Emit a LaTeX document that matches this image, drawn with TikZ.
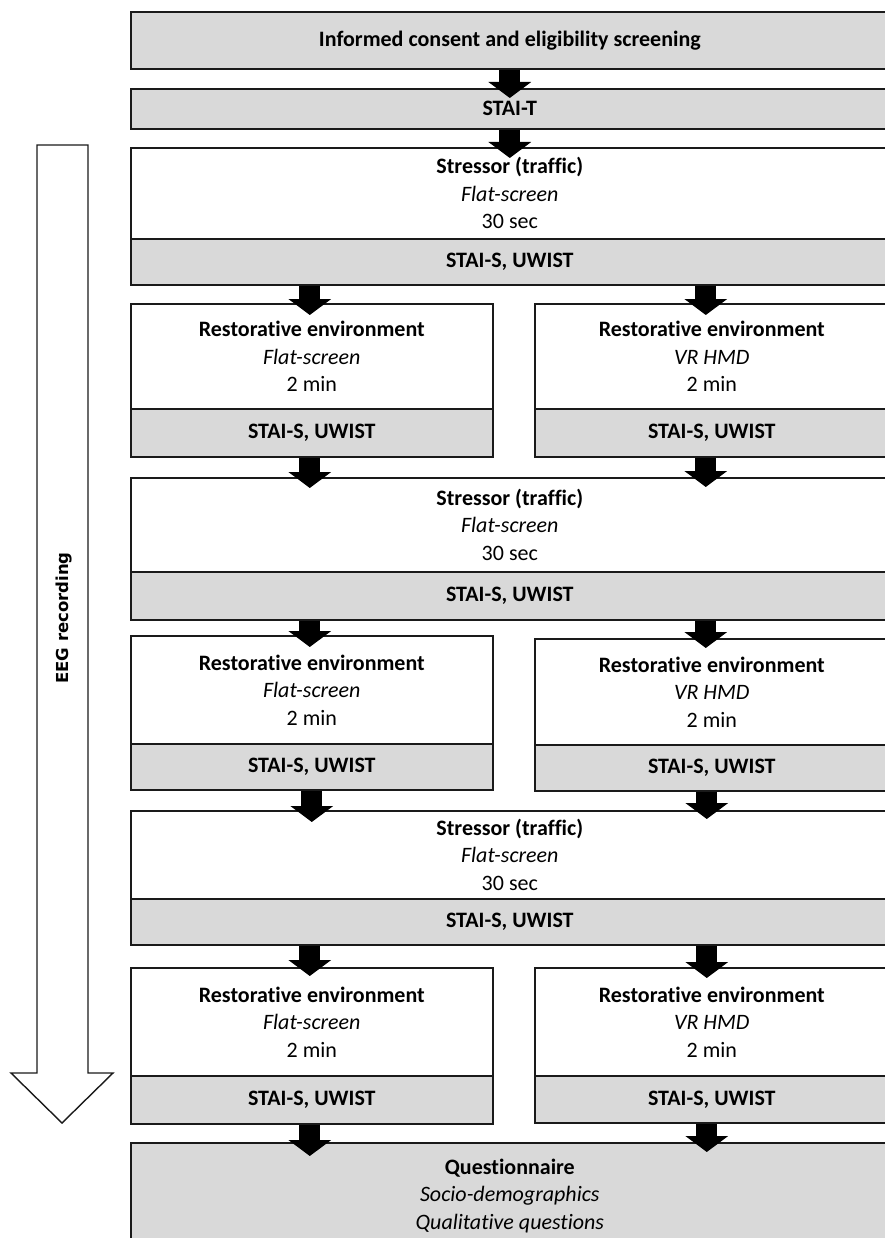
\documentclass[tikz,border=0pt]{standalone}
\usepackage{fontspec}
\setmainfont{Carlito}[Ligatures=NoCommon]
\newfontfamily\eegfont{DejaVu Sans}
\usetikzlibrary{arrows.meta,calc}
\definecolor{boxgray}{HTML}{D9D9D9}
\definecolor{edge}{HTML}{1A1A1A}
\tikzset{
  part/.style={draw=edge, line width=1.6pt, inner sep=0pt, anchor=north west, align=center},
  whitepart/.style={part, fill=white, font=\fontsize{22}{27.5}\selectfont},
  graypart/.style={part, fill=boxgray, font=\fontsize{22}{27.5}\selectfont\bfseries},
  full/.style={minimum width=758pt},
  lbox/.style={minimum width=362pt},
  rbox/.style={minimum width=354pt},
  flow/.style={line width=21pt, black, -{Triangle[width=42pt,length=16pt]}},
  eegarrow/.style={draw=edge, line width=1.4pt, fill=white, line join=miter},
}
\newcommand{\stressortext}{\textbf{Stressor (traffic)}\\\textit{Flat-screen}\\30 sec}
\newcommand{\restflat}{\textbf{Restorative environment}\\\textit{Flat-screen}\\2 min}
\newcommand{\restvr}{\textbf{Restorative environment}\\\textit{VR HMD}\\2 min}
\begin{document}
\begin{tikzpicture}[x=1pt,y=-1pt]
\useasboundingbox (0,0) rectangle (885,1238);
% EEG recording arrow
\draw[eegarrow] (37,145) -- (88,145) -- (88,1073) -- (113,1073) -- (62,1123) -- (11,1073) -- (37,1073) -- cycle;
\node[rotate=90, font=\eegfont\bfseries\fontsize{16.5}{19}\selectfont] (eeg) at (64,618) {EEG recording};
% boxes
\node[graypart, full, minimum height=57pt] (consent) at (130,11) {Informed consent and eligibility screening};
\node[graypart, full, minimum height=40pt] (stait) at (130,88) {STAI-T};
\node[whitepart, full, minimum height=91pt] (s1w) at (130,147) {\stressortext};
\node[graypart, full, minimum height=46pt] (s1g) at (130,238) {STAI-S, UWIST};
\node[whitepart, lbox, minimum height=105pt] (r1lw) at (130,303) {\restflat};
\node[graypart, lbox, minimum height=48pt] (r1lg) at (130,408) {STAI-S, UWIST};
\node[whitepart, rbox, minimum height=105pt] (r1rw) at (534,303) {\restvr};
\node[graypart, rbox, minimum height=48pt] (r1rg) at (534,408) {STAI-S, UWIST};
\node[whitepart, full, minimum height=94pt] (s2w) at (130,477) {\stressortext};
\node[graypart, full, minimum height=48pt] (s2g) at (130,571) {STAI-S, UWIST};
\node[whitepart, lbox, minimum height=108pt] (r2lw) at (130,635) {\restflat};
\node[graypart, lbox, minimum height=46pt] (r2lg) at (130,743) {STAI-S, UWIST};
\node[whitepart, rbox, minimum height=106pt] (r2rw) at (534,638) {\restvr};
\node[graypart, rbox, minimum height=46pt] (r2rg) at (534,744) {STAI-S, UWIST};
\node[whitepart, full, minimum height=88pt] (s3w) at (130,810) {\stressortext};
\node[graypart, full, minimum height=46pt] (s3g) at (130,898) {STAI-S, UWIST};
\node[whitepart, lbox, minimum height=108pt] (r3lw) at (130,967) {\restflat};
\node[graypart, lbox, minimum height=48pt] (r3lg) at (130,1075) {STAI-S, UWIST};
\node[whitepart, rbox, minimum height=108pt] (r3rw) at (534,967) {\restvr};
\node[graypart, rbox, minimum height=47pt] (r3rg) at (534,1075) {STAI-S, UWIST};
\node[graypart, full, minimum height=106pt, font=\fontsize{22}{27.5}\selectfont] (quest) at (130,1142) {\textbf{Questionnaire}\\\textit{Socio-demographics}\\\textit{Qualitative questions}};
% flow arrows
\draw[flow] (consent.south) -- ($(stait.north)+(0,10)$);
\draw[flow] (stait.south) -- ($(s1w.north)+(0,11)$);
\draw[flow] ([xshift=-2pt]r1lw.north |- s1g.south) -- ($([xshift=-2pt]r1lw.north)+(0,12)$);
\draw[flow] ([xshift=-6pt]r1rw.north |- s1g.south) -- ($([xshift=-6pt]r1rw.north)+(0,12)$);
\draw[flow] ([xshift=-2pt]r1lg.south) -- ($([xshift=-2pt]r1lg.south |- s2w.north)+(0,11)$);
\draw[flow] ([xshift=-6pt]r1rg.south) -- ($([xshift=-6pt]r1rg.south |- s2w.north)+(0,10)$);
\draw[flow] ([xshift=-2pt]r2lw.north |- s2g.south) -- ($([xshift=-2pt]r2lw.north)+(0,12)$);
\draw[flow] ([xshift=-6pt]r2rw.north |- s2g.south) -- ($([xshift=-6pt]r2rw.north)+(0,10)$);
\draw[flow] (r2lg.south) -- ($(r2lg.south |- s3w.north)+(0,12)$);
\draw[flow] ([xshift=-5pt]r2rg.south) -- ($([xshift=-5pt]r2rg.south |- s3w.north)+(0,9)$);
\draw[flow] ([xshift=-2pt]r3lw.north |- s3g.south) -- ($([xshift=-2pt]r3lw.north)+(0,9)$);
\draw[flow] ([xshift=-5pt]r3rw.north |- s3g.south) -- ($([xshift=-5pt]r3rw.north)+(0,11)$);
\draw[flow] ([xshift=-2pt]r3lg.south) -- ($([xshift=-2pt]r3lg.south |- quest.north)+(0,14)$);
\draw[flow] ([xshift=-5pt]r3rg.south) -- ($([xshift=-5pt]r3rg.south |- quest.north)+(0,10)$);
\end{tikzpicture}
\end{document}
